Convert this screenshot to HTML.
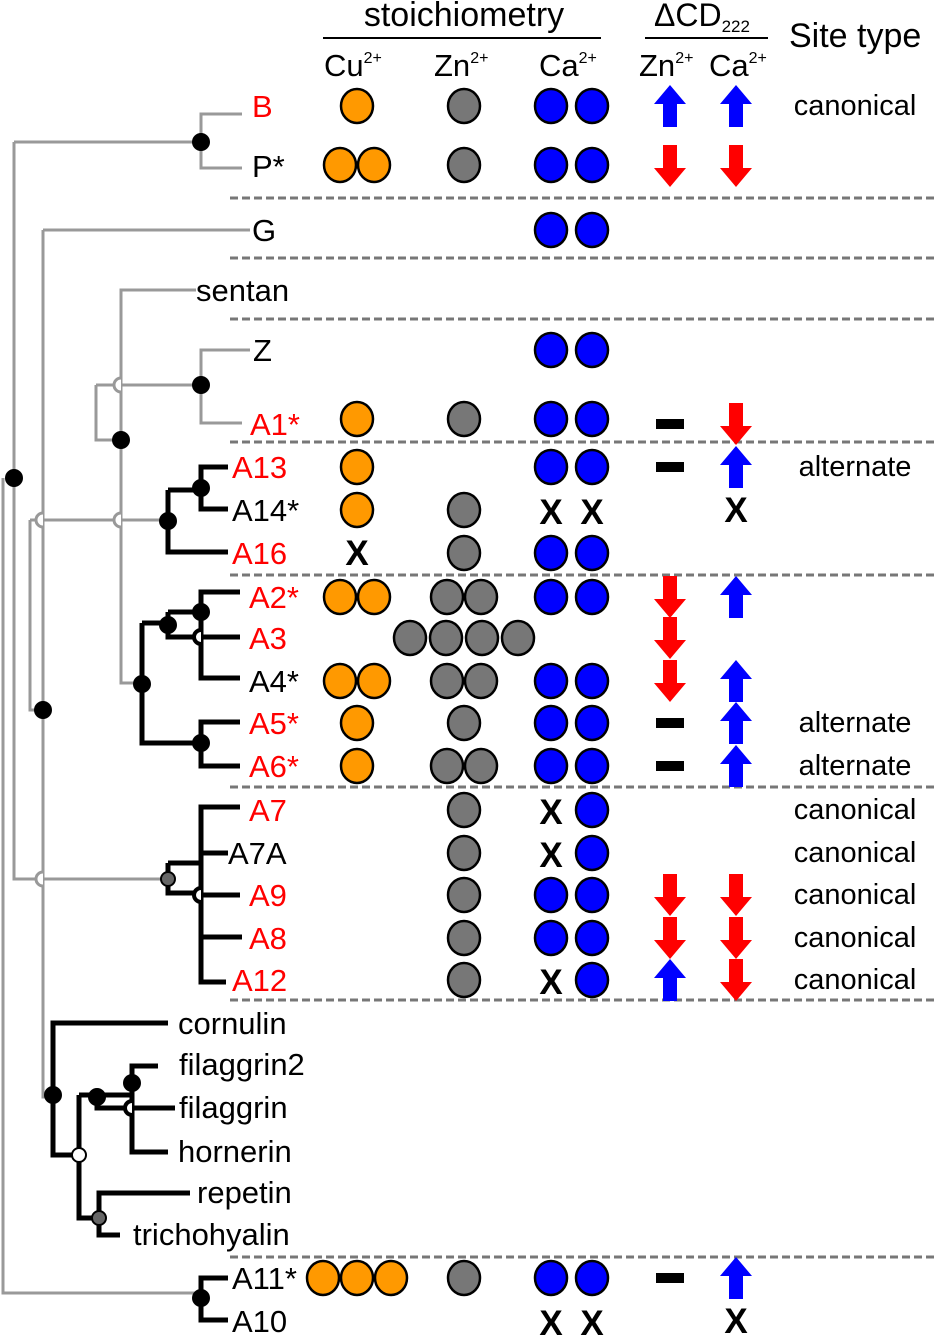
<!DOCTYPE html>
<html><head><meta charset="utf-8"><style>
html,body{margin:0;padding:0;background:#fff}
svg{display:block;font-family:"Liberation Sans",Arial,sans-serif}
</style></head><body>
<svg id="fig" width="936" height="1339" viewBox="0 0 936 1339" xmlns="http://www.w3.org/2000/svg">
<g id="header" font-size="31" fill="#000">
  <text x="464" y="26" text-anchor="middle" font-size="34">stoichiometry</text>
  <line x1="323" y1="38" x2="601" y2="38" stroke="#000" stroke-width="2"/>
  <text x="654" y="26" font-size="32">ΔCD<tspan font-size="17" dy="6">222</tspan></text>
  <line x1="645" y1="38" x2="768" y2="38" stroke="#000" stroke-width="2"/>
  <text x="789" y="47" font-size="34">Site type</text>
  <text x="324" y="76">Cu<tspan font-size="16" dy="-13">2+</tspan></text>
  <text x="434" y="76">Zn<tspan font-size="16" dy="-13">2+</tspan></text>
  <text x="539" y="76">Ca<tspan font-size="16" dy="-13">2+</tspan></text>
  <text x="639" y="76">Zn<tspan font-size="16" dy="-13">2+</tspan></text>
  <text x="709" y="76">Ca<tspan font-size="16" dy="-13">2+</tspan></text>
</g>
<g id="tree" fill="none" stroke-linejoin="miter" stroke-linecap="butt">
  <g stroke="#999" stroke-width="3">
    <path d="M3 478 V1293 H201"/>
    <path d="M14 142 V879 H168"/>
    <path d="M14 142 H201 M242 114 H201 V168 H242"/>
    <path d="M43 230 H250 M43 230 V1097 H53"/>
    <path d="M30 520 V710 H43"/>
    <path d="M30 520 H168"/>
    <path d="M196 290 H121 V683 H142"/>
    <path d="M96 385 H201 M96 385 V440 H121"/>
    <path d="M250 350 H201 V423 H242"/>
  </g>
  <g stroke="#000" stroke-width="5">
    <path d="M168 490 V552 H228 M168 490 H201 M228 467 H201 V509 H228"/>
    <path d="M142 623 V743 H201 M142 623 H168 M168 612 V637 H201 M168 612 H201 M240 592 H201 V678 H240 M201 637 H240 M240 722 H201 V766 H240"/>
    <path d="M168 863 V893 H201 M168 863 H201 M240 807 H201 V982 H226 M201 853 H228 M201 895 H240 M201 937 H242"/>
    <path d="M168 1023 H53 V1155 H79 M79 1095 V1218 H99 M79 1095 H97 M97 1095 V1108 H132 M97 1095 H132 M158 1066 H132 V1152 H168 M132 1108 H175 M190 1193 H99 V1235 H120"/>
    <path d="M228 1278 H201 V1320 H228"/>
  </g>
  <g fill="#fff" stroke-width="3">
    <path d="M121 378 a7 7 0 0 0 0 14" stroke="#999"/>
    <path d="M43 513 a7 7 0 0 0 0 14" stroke="#999"/>
    <path d="M121 513 a7 7 0 0 0 0 14" stroke="#999"/>
    <path d="M43 872 a7 7 0 0 0 0 14" stroke="#999"/>
    <path d="M201 630 a7 7 0 0 0 0 14" stroke="#000" stroke-width="4"/>
    <path d="M201 888 a7 7 0 0 0 0 14" stroke="#000" stroke-width="4"/>
    <path d="M132 1101 a7 7 0 0 0 0 14" stroke="#000" stroke-width="4"/>
  </g>
  <g id="nodes" stroke="#000" stroke-width="2"></g>
</g>
<g id="dividers"></g>
<g id="rows"></g>
</svg>
<script>
const NS='http://www.w3.org/2000/svg';
const taxa=['B','P*','G','sentan','Z','A1*','A13','A14*','A16','A2*','A3','A4*','A5*','A6*','A7','A7A','A9','A8','A12','cornulin','filaggrin2','filaggrin','hornerin','repetin','trichohyalin','A11*','A10'];
const rowY=[106,166,230,290,350,424,467,510,553,597,638,681,723,766,810,853,895,938,980,1023,1064,1107,1151,1192,1234,1278,1321];
const labelX=[252,252,252,196,253,250,232,232,232,249,249,249,249,249,249,228,249,249,232,178,179,179,178,197,133,232,232];
const isRed=[1,0,0,0,0,1,1,0,1,1,1,0,1,1,1,0,1,1,1,0,0,0,0,0,0,0,0];
const cuCount=[1,2,0,0,0,1,1,1,'x',2,0,2,1,1,0,0,0,0,0,0,0,0,0,0,0,3,0];
const znCount=[1,1,0,0,0,1,0,1,1,2,4,2,1,2,1,1,1,1,1,0,0,0,0,0,0,1,0];
const caSite1=['c','c','c',0,'c','c','c','x','c','c',0,'c','c','c','x','x','c','c','x',0,0,0,0,0,0,'c','x'];
const caSite2=['c','c','c',0,'c','c','c','x','c','c',0,'c','c','c','c','c','c','c','c',0,0,0,0,0,0,'c','x'];
const cdZn=['up','down',0,0,0,'dash','dash',0,0,'down','down','down','dash','dash',0,0,'down','down','up',0,0,0,0,0,0,'dash',0];
const cdCa=['up','down',0,0,0,'down','up','x',0,'up',0,'up','up','up',0,0,'down','down','down',0,0,0,0,0,0,'up','x'];
const siteType=['canonical',0,0,0,0,0,'alternate',0,0,0,0,0,'alternate','alternate','canonical','canonical','canonical','canonical','canonical',0,0,0,0,0,0,0,0];
const dividerY=[198,258,319,442,575,787,1000,1257];
const nodeList=[[201,142,'#000'],[14,478,'#000'],[201,385,'#000'],[121,440,'#000'],[201,488,'#000'],[168,521,'#000'],[43,710,'#000'],[201,612,'#000'],[168,625,'#000'],[142,684,'#000'],[201,743,'#000'],[168,879,'#666'],[53,1095,'#000'],[97,1097,'#000'],[132,1083,'#000'],[79,1155,'#fff'],[99,1218,'#666'],[201,1298,'#000']];

function mk(tag,attrs,parent){const e=document.createElementNS(NS,tag);for(const k in attrs)e.setAttribute(k,attrs[k]);parent.appendChild(e);return e;}
const nodesG=document.getElementById('nodes');
nodeList.forEach(n=>{const c=mk('circle',{cx:n[0],cy:n[1],r:n[2]==='#000'?8:7,fill:n[2]},nodesG);

});
const dv=document.getElementById('dividers');
dividerY.forEach(y=>{const l=mk('line',{x1:230,x2:936,y1:y,y2:y,stroke:'#777','stroke-width':3,'stroke-dasharray':'8 4'},dv);

});

const rowsG=document.getElementById('rows');
const colCu=357,colZn=464,colCa1=551,colCa2=592,colCdZn=670,colCdCa=736,pitch=34;
function circ(x,y,fill,g,name){const c=mk('ellipse',{cx:x,cy:y,rx:16,ry:17,fill:fill,stroke:'#000','stroke-width':2.5},g);

}
function xMark(x,y,g,name){const t=mk('text',{x:x,y:y+12,'text-anchor':'middle','font-size':35,'font-weight':'bold',fill:'#000'},g);t.textContent='X';

}
function arrow(x,y,dir,g,name){const s=dir==='up'?-1:1;
const d=`M${x} ${y+s*21} L${x-16} ${y+s*2} L${x-7} ${y+s*2} L${x-7} ${y-s*21} L${x+7} ${y-s*21} L${x+7} ${y+s*2} L${x+16} ${y+s*2} Z`;
const p=mk('path',{d:d,fill:dir==='up'?'#0000ff':'#ff0000'},g);

}
function cdMark(v,x,y,g,name){if(!v)return;if(v==='x')xMark(x,y,g,name+'-x');else if(v==='dash'){const r=mk('rect',{x:x-14,y:y-5,width:28,height:10,fill:'#000'},g);

}else arrow(x,y,v,g,name+'-'+v);}

taxa.forEach((name,i)=>{
  const y=rowY[i];
  const g=mk('g',{},rowsG);
  
  
  const t=mk('text',{x:labelX[i],y:y+11,'font-size':31,fill:isRed[i]?'#ff0000':'#000'},g);t.textContent=name;
  
  
  const cy=y-(i===5?5:0)-(i===1?1:0);
  const cu=cuCount[i];
  if(cu==='x')xMark(colCu,cy,g,'cu-absent');
  else for(let k=0;k<cu;k++)circ(colCu+(k-(cu-1)/2)*pitch,cy,'#ff9900',g,'cu-site');
  const zn=znCount[i];
  for(let k=0;k<zn;k++)circ(colZn+(k-(zn-1)/2)*(zn===4?36:pitch),cy,'#777',g,'zn-site');
  [[caSite1[i],colCa1],[caSite2[i],colCa2]].forEach(([v,x])=>{if(v==='c')circ(x,cy,'#0000ff',g,'ca-site');else if(v==='x')xMark(x,y+2,g,'ca-site-absent');});
  cdMark(cdZn[i],colCdZn,y,g,'zn-cd');
  cdMark(cdCa[i],colCdCa,y,g,'ca-cd');
  if(siteType[i]){const s=mk('text',{x:855,y:y+9,'text-anchor':'middle','font-size':29,fill:'#000'},g);s.textContent=siteType[i];
  
  }
});
</script>
</body></html>
